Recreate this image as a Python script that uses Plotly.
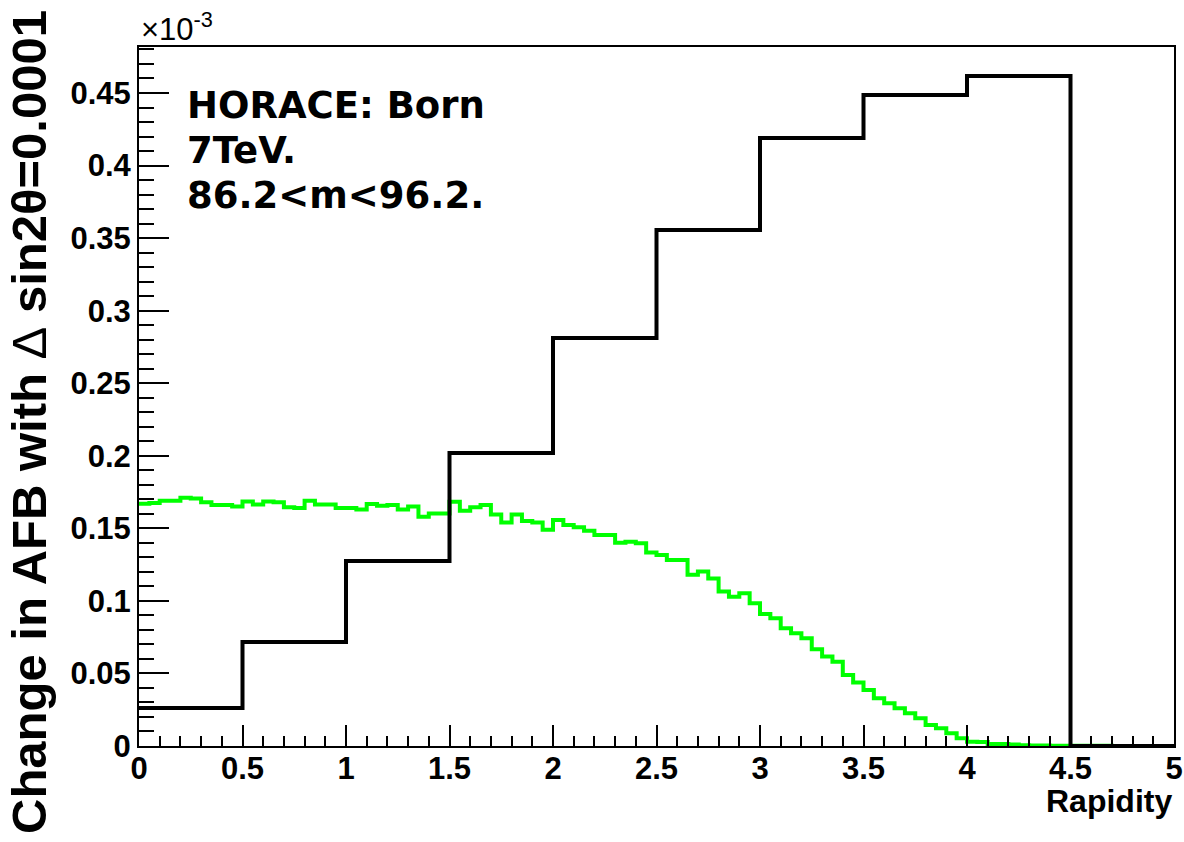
import numpy as np
import plotly.graph_objects as go

# ---- data (values in units of 1e-3) ----
x_min, x_max = 0.0, 5.0

# coarse histogram (10 bins of 0.5)
coarse_values = [0.0262, 0.0717, 0.1275, 0.2019, 0.2812, 0.3556, 0.4190, 0.4487, 0.4617, 0.0]

# fine histogram (100 bins of 0.05)
fine_values = [
    0.1670, 0.1675, 0.1690, 0.1690, 0.1710, 0.1705, 0.1680, 0.1660, 0.1660, 0.1650,
    0.1685, 0.1665, 0.1685, 0.1680, 0.1645, 0.1640, 0.1690, 0.1665, 0.1665, 0.1640,
    0.1640, 0.1630, 0.1668, 0.1655, 0.1660, 0.1630, 0.1650, 0.1580, 0.1603, 0.1603,
    0.1684, 0.1622, 0.1645, 0.1660, 0.1595, 0.1540, 0.1595, 0.1550, 0.1540, 0.1490,
    0.1557, 0.1523, 0.1507, 0.1484, 0.1454, 0.1454, 0.1400, 0.1408, 0.1397, 0.1333,
    0.1316, 0.1282, 0.1282, 0.1180, 0.1202, 0.1155, 0.1064, 0.1029, 0.1052, 0.0983,
    0.0910, 0.0880, 0.0811, 0.0777, 0.0742, 0.0666, 0.0616, 0.0581, 0.0490, 0.0437,
    0.0386, 0.0329, 0.0294, 0.0260, 0.0225, 0.0191, 0.0145, 0.0122, 0.0088, 0.0053,
    0.0030, 0.0028, 0.0014, 0.0013, 0.0011, 0.0006, 0.0003, 0.0003, 0.0002, 0.0002,
    0.0001, 0.0001, 0.0001, 0.0001, 0.0, 0.0, 0.0, 0.0, 0.0, 0.0,
]

y_tick_values = [0, 0.05, 0.1, 0.15, 0.2, 0.25, 0.3, 0.35, 0.4, 0.45]
y_tick_labels = ["0", "0.05", "0.1", "0.15", "0.2", "0.25", "0.3", "0.35", "0.4", "0.45"]
x_tick_values = [0, 0.5, 1, 1.5, 2, 2.5, 3, 3.5, 4, 4.5, 5]
x_tick_labels = ["0", "0.5", "1", "1.5", "2", "2.5", "3", "3.5", "4", "4.5", "5"]

info_lines = ["HORACE: Born", "7TeV.", "86.2<m<96.2."]


def step_xy(values):
    edges = np.linspace(x_min, x_max, len(values) + 1)
    ys = list(values) + [values[-1]]
    return edges, ys


fig = go.Figure()

gx, gy = step_xy(fine_values)
fig.add_trace(go.Scatter(x=gx, y=gy, mode="lines", line=dict(color="#00ff00", width=4, shape="hv"),
                         showlegend=False, hoverinfo="skip"))

cx, cy = step_xy(coarse_values)
fig.add_trace(go.Scatter(x=cx, y=cy, mode="lines", line=dict(color="black", width=4, shape="hv"),
                         showlegend=False, hoverinfo="skip"))

tick_font = dict(family="Liberation Sans, Arial, sans-serif", size=31, color="black", weight="bold")

L, R, T, B = 139, 10, 47, 96
W, H = 1184, 842
pw = W - L - R
ph = H - T - B

fig.update_layout(
    width=W, height=H,
    margin=dict(l=L, r=R, t=T, b=B),
    paper_bgcolor="white", plot_bgcolor="white",
    xaxis=dict(
        range=[x_min, x_max], showgrid=False, zeroline=False, automargin=False,
        showline=True, linecolor="black", linewidth=2, mirror=True,
        ticks="inside", ticklen=21, tickwidth=2, tickcolor="black",
        tickvals=x_tick_values, ticktext=x_tick_labels, tickfont=tick_font,
        ticklabelstandoff=-6,
        minor=dict(ticks="inside", ticklen=10, tickwidth=2, tickcolor="black", dtick=0.1),
    ),
    yaxis=dict(
        range=[0, 0.4817], showgrid=False, zeroline=False, automargin=False,
        showline=True, linecolor="black", linewidth=2, mirror=True,
        ticks="inside", ticklen=30, tickwidth=2, tickcolor="black",
        tickvals=y_tick_values, ticktext=y_tick_labels, tickfont=tick_font,
        minor=dict(ticks="inside", ticklen=15, tickwidth=2, tickcolor="black", dtick=0.01),
    ),
)

annotations = []
# exponent label
annotations.append(dict(xref="paper", yref="paper", x=0, y=1, xanchor="left", yanchor="bottom",
                        text="×10<sup>-3</sup>", showarrow=False, yshift=-2,
                        font=dict(family="Liberation Sans, Arial, sans-serif", size=31, color="black")))
# y axis title
annotations.append(dict(xref="paper", yref="paper", x=(29 - L) / pw, y=(746 - 422) / ph,
                        xanchor="center", yanchor="middle", textangle=-90, showarrow=False,
                        text="Change in AFB with <span style='font-weight:normal'>Δ</span> sin2θ=0.0001",
                        font=dict(family="Liberation Sans, Arial, sans-serif", size=49, color="black",
                                  weight="bold")))
# x axis title
annotations.append(dict(xref="paper", yref="paper", x=1, y=(746 - 801) / ph,
                        xanchor="right", yanchor="middle", showarrow=False, text="Rapidity",
                        font=dict(family="Liberation Sans, Arial, sans-serif", size=32, color="black",
                                  weight="bold")))
# info text
for i, line in enumerate(info_lines):
    annotations.append(dict(xref="paper", yref="paper", x=(185 - L) / pw,
                            y=(746 - (105 + 45 * i)) / ph, xanchor="left", yanchor="middle",
                            showarrow=False, text=line,
                            font=dict(family="DejaVu Sans, Verdana, sans-serif", size=37,
                                      color="black", weight="bold")))
fig.update_layout(annotations=annotations)

fig.write_html("out.html")
